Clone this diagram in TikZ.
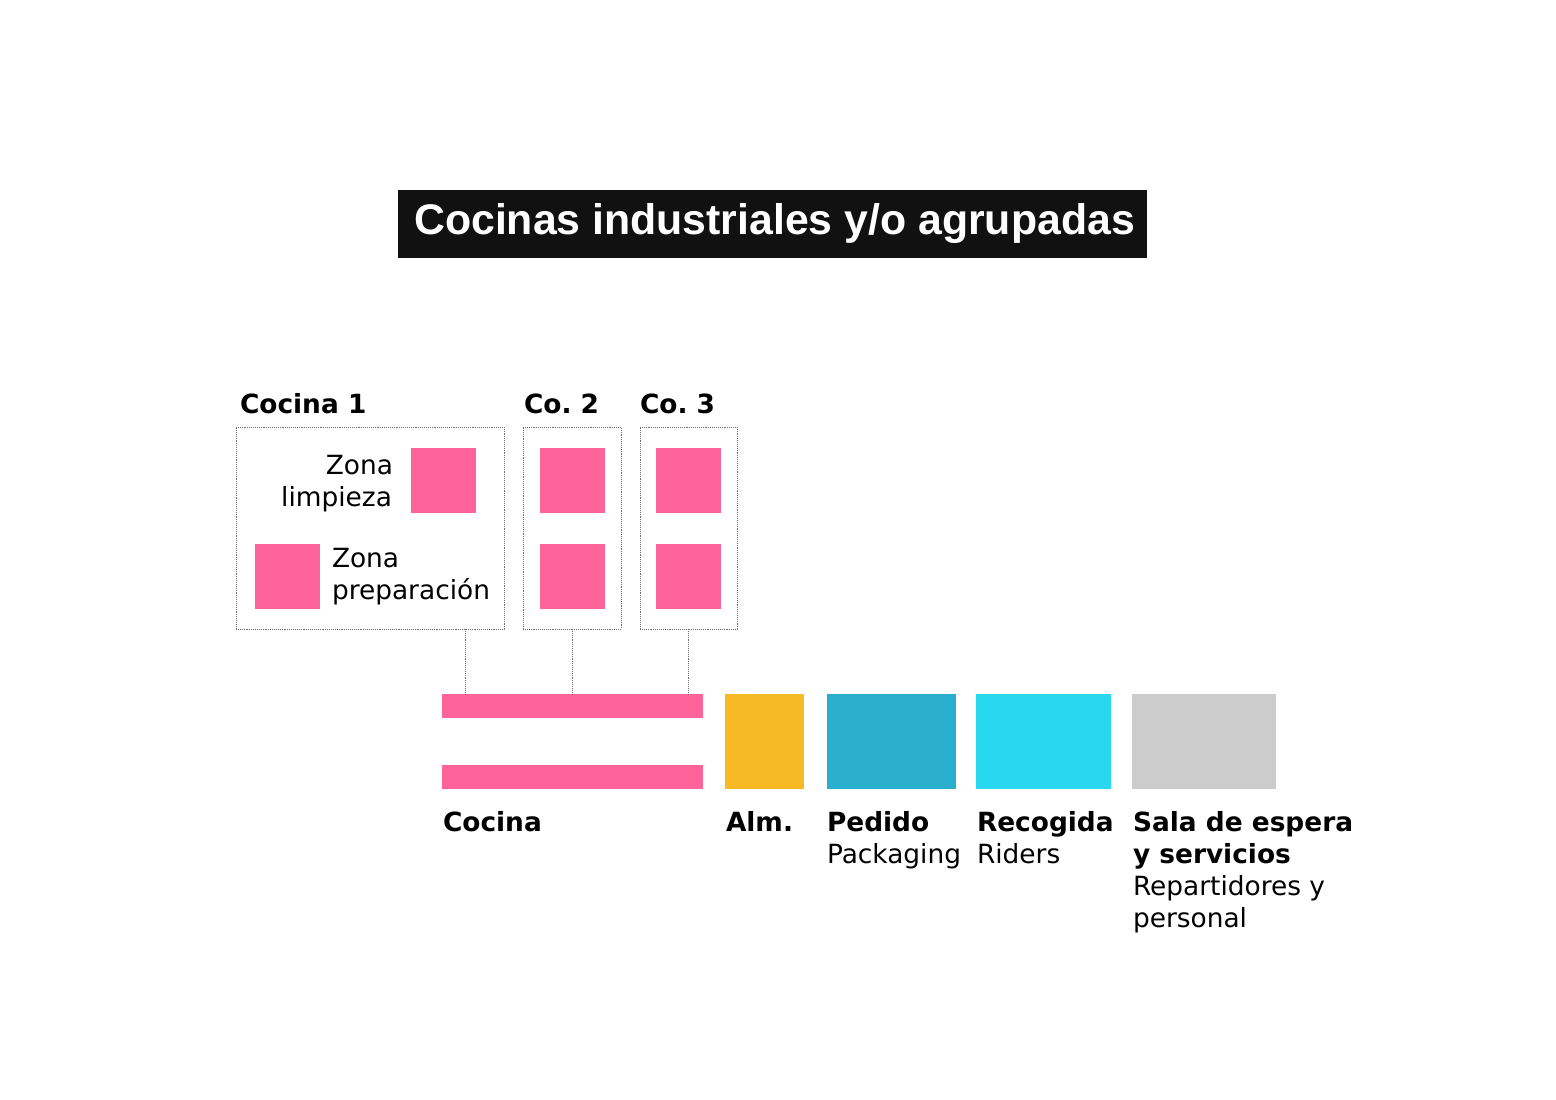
\documentclass[tikz,border=0pt]{standalone}
\usepackage{fontspec}
\setmainfont{DejaVu Sans}
\newfontfamily\titlefont{Liberation Sans}
\frenchspacing
\definecolor{pinkz}{HTML}{FE6499}
\definecolor{yellowz}{HTML}{F7B924}
\definecolor{tealz}{HTML}{29AFCD}
\definecolor{cyanz}{HTML}{28D8F1}
\definecolor{grayz}{HTML}{CCCCCC}
\definecolor{titlebg}{HTML}{111111}
\definecolor{dotz}{HTML}{6E6E6E}
\begin{document}
\begin{tikzpicture}[x=1pt,y=-1pt,
  blk/.style={draw=none,inner sep=0,outer sep=0,anchor=north west},
  sq/.style={blk,fill=pinkz,minimum width=65pt,minimum height=65pt},
  zonebox/.style={blk,draw=dotz,densely dotted,line width=0.9pt,minimum height=202pt},
  lbl/.style={inner sep=0,outer sep=0,anchor=base west,font=\fontsize{26.4}{32}\selectfont},
  lblb/.style={lbl,font=\fontsize{26.4}{32}\selectfont\bfseries},
  lblr/.style={lbl,anchor=base east},
  link/.style={draw=dotz,densely dotted,line width=0.9pt}]
\useasboundingbox (0,0) rectangle (1556,1100);
\fill[white] (0,0) rectangle (1556,1100);
% title
\node[blk,fill=titlebg,minimum width=749pt,minimum height=68pt] (titlebox) at (398,190) {};
\node[text=white,font=\titlefont\bfseries\fontsize{42.8}{50}\selectfont,inner sep=0] (title) at ([xshift=2pt]titlebox.center) {Cocinas industriales y/o agrupadas};
% kitchen boxes
\node[zonebox,minimum width=268pt] (k1box) at (236,427) {};
\node[zonebox,minimum width=98pt] (k2box) at (523,427) {};
\node[zonebox,minimum width=97pt] (k3box) at (640,427) {};
\node[lblb] (k1lbl) at (240,413) {Cocina 1};
\node[lblb] (k2lbl) at (524,413) {Co. 2};
\node[lblb] (k3lbl) at (640,413) {Co. 3};
% squares
\node[sq] (k1a) at (411,448) {};
\node[sq] (k1b) at (255,544) {};
\node[sq] (k2a) at (540,448) {};
\node[sq] (k2b) at (540,544) {};
\node[sq] (k3a) at (656,448) {};
\node[sq] (k3b) at (656,544) {};
\node[lblr] (zl1) at (393,474) {Zona};
\node[lblr] (zl2) at (392,506) {limpieza};
\node[lbl] (zp1) at (332,567) {Zona};
\node[lbl] (zp2) at (332,599) {preparación};
% bottom blocks
\node[blk,fill=pinkz,minimum width=261pt,minimum height=24pt] (bar1) at (442,694) {};
\node[blk,fill=pinkz,minimum width=261pt,minimum height=24pt] (bar2) at (442,765) {};
\node[blk,fill=yellowz,minimum width=79pt,minimum height=95pt] (alm) at (725,694) {};
\node[blk,fill=tealz,minimum width=129pt,minimum height=95pt] (ped) at (827,694) {};
\node[blk,fill=cyanz,minimum width=135pt,minimum height=95pt] (rec) at (976,694) {};
\node[blk,fill=grayz,minimum width=144pt,minimum height=95pt] (sala) at (1132,694) {};
% connectors
\coordinate (k1out) at (465,629);
\draw[link] (k1out) -- (k1out |- bar1.north);
\draw[link] (k2box.south) -- (k2box.south |- bar1.north);
\draw[link] (k3box.south) -- (k3box.south |- bar1.north);
% labels
\node[lblb] (lcoc) at (443,831) {Cocina};
\node[lblb] (lalm) at (726,831) {Alm.};
\node[lblb] (lped) at (827,831) {Pedido};
\node[lbl] (lped2) at (827,863) {Packaging};
\node[lblb] (lrec) at (977,831) {Recogida};
\node[lbl] (lrec2) at (977,863) {Riders};
\node[lblb] (lsal) at (1133,831) {Sala de espera};
\node[lblb] (lsal2) at (1133,863) {y servicios};
\node[lbl] (lsal3) at (1133,895) {Repartidores y};
\node[lbl] (lsal4) at (1133,927) {personal};
\end{tikzpicture}
\end{document}
